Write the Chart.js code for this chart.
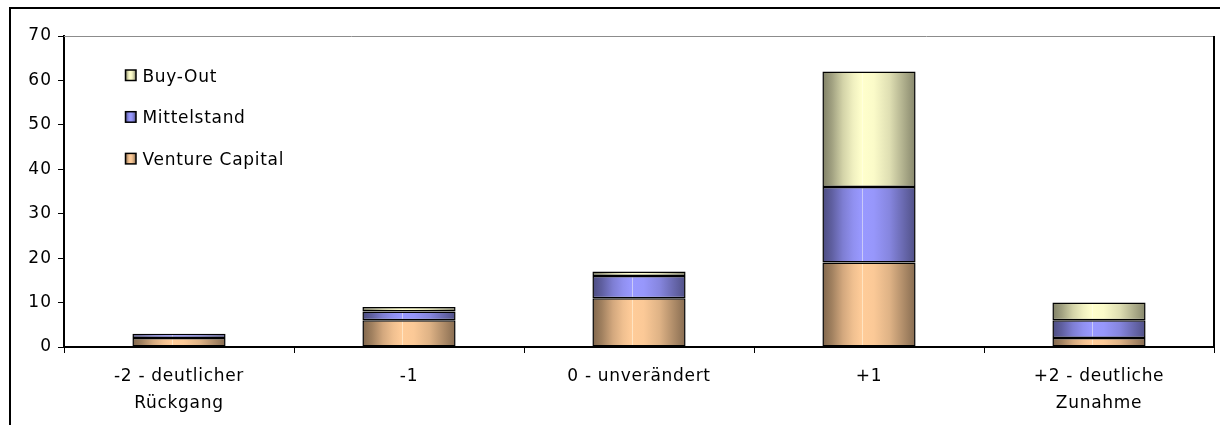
<!DOCTYPE html>
<html>
<head>
<meta charset="utf-8">
<script src="https://cdn.jsdelivr.net/npm/chart.js@4/dist/chart.umd.min.js"></script>
<style>
  html, body { margin: 0; padding: 0; background: #fff; }
  #wrap { width: 1220px; height: 425px; position: relative; }
</style>
</head>
<body>
<div id="wrap"><canvas id="c" width="1220" height="425"></canvas></div>
<script>
// Categories (two-line labels) and stacked series values
const categories = [
  ['-2 - deutlicher', 'Rückgang'],
  '-1',
  '0 - unverändert',
  '+1',
  ['+2 - deutliche', 'Zunahme']
];
const ventureCapital = [2, 6, 11, 19, 2];
const mittelstand    = [1, 2, 5, 17, 4];
const buyOut         = [0, 1, 1, 26, 4];
const yTicks = [0, 10, 20, 30, 40, 50, 60, 70];

const FONT = 'Verdana, "DejaVu Sans", sans-serif';

// Peak (centre) and edge colours of the cylinder-like shading
const palette = {
  'Venture Capital': { hi: [255, 204, 153], lo: [128, 102, 76] },
  'Mittelstand':     { hi: [153, 153, 255], lo: [76, 76, 128] },
  'Buy-Out':         { hi: [255, 255, 204], lo: [128, 128, 102] }
};

function mix(p, t) {
  const c = p.lo.map((lo, i) => Math.round(lo + (p.hi[i] - lo) * t));
  return 'rgb(' + c.join(',') + ')';
}

function shade(ctx, x0, x1, p, highlight) {
  const g = ctx.createLinearGradient(x0, 0, x1, 0);
  g.addColorStop(0.00, mix(p, 0.0));
  g.addColorStop(0.10, mix(p, 0.25));
  g.addColorStop(0.22, mix(p, 0.65));
  g.addColorStop(0.33, mix(p, 0.88));
  g.addColorStop(0.42, mix(p, 1.0));
  if (highlight) {
    g.addColorStop(0.425, 'rgb(255,255,240)');
    g.addColorStop(0.435, mix(p, 1.0));
  }
  g.addColorStop(0.55, mix(p, 0.97));
  g.addColorStop(0.72, mix(p, 0.75));
  g.addColorStop(0.88, mix(p, 0.35));
  g.addColorStop(1.00, mix(p, 0.05));
  return g;
}

const BAR_PCT = 0.405;

function barFill(context) {
  const chart = context.chart;
  const p = palette[context.dataset.label];
  const xs = chart.scales.x;
  if (!chart.chartArea || !xs || context.dataIndex === undefined) return mix(p, 1);
  const cx = xs.getPixelForValue(context.dataIndex);
  const w = (chart.chartArea.width / categories.length) * BAR_PCT;
  return shade(chart.ctx, cx - w / 2, cx + w / 2, p, true);
}

// Draw a scale's labels with extra letter spacing
function spaceLabels(scale, spacing) {
  if (scale._spaced) return;
  scale._spaced = true;
  const orig = scale.drawLabels;
  scale.drawLabels = function (area) {
    const ctx = this.ctx;
    ctx.save();
    ctx.letterSpacing = spacing;
    orig.call(this, area);
    ctx.restore();
  };
}

// Outer frame, plot-area frame and the in-plot legend
const decorations = {
  id: 'decorations',
  afterDraw(chart) {
    const ctx = chart.ctx;
    const a = chart.chartArea;
    ctx.save();
    // outer frame
    ctx.strokeStyle = '#000';
    ctx.lineWidth = 2;
    ctx.beginPath();
    ctx.moveTo(10, 425);
    ctx.lineTo(10, 8);
    ctx.lineTo(1220, 8);
    ctx.stroke();
    // plot area top (grey) and right (black)
    ctx.lineWidth = 1;
    ctx.strokeStyle = '#8c8c8c';
    ctx.beginPath();
    ctx.moveTo(a.left, a.top + 0.5);
    ctx.lineTo(a.right, a.top + 0.5);
    ctx.stroke();
    ctx.lineWidth = 2;
    ctx.strokeStyle = '#000';
    ctx.beginPath();
    ctx.moveTo(a.right, a.top);
    ctx.lineTo(a.right, a.bottom);
    ctx.stroke();

    // legend, listed top-down in reverse stacking order
    const items = chart.data.datasets.slice().reverse();
    ctx.font = '17px ' + FONT;
    ctx.letterSpacing = '0.7px';
    ctx.textBaseline = 'alphabetic';
    ctx.textAlign = 'left';
    items.forEach((ds, i) => {
      const base = 81.5 + i * 41.7;
      const x0 = 125.5, s = 10.5;
      const top = base - 11.5;
      ctx.fillStyle = shade(ctx, x0, x0 + s, palette[ds.label], false);
      ctx.fillRect(x0, top, s, s);
      ctx.lineWidth = 1.5;
      ctx.strokeStyle = '#000';
      ctx.strokeRect(x0, top, s, s);
      ctx.fillStyle = '#000';
      ctx.fillText(ds.label, 142.5, base);
    });
    ctx.restore();
  }
};

new Chart(document.getElementById('c'), {
  type: 'bar',
  data: {
    labels: categories,
    datasets: [
      { label: 'Venture Capital', data: ventureCapital },
      { label: 'Mittelstand', data: mittelstand },
      { label: 'Buy-Out', data: buyOut }
    ].map(d => Object.assign(d, {
      backgroundColor: barFill,
      borderColor: '#000',
      borderWidth: 1.5,
      borderSkipped: false,
      categoryPercentage: 1,
      barPercentage: BAR_PCT
    }))
  },
  options: {
    responsive: false,
    animation: false,
    devicePixelRatio: 1,
    layout: { padding: { left: 0, top: 36, right: 6, bottom: 0 } },
    plugins: { legend: { display: false }, tooltip: { enabled: false } },
    scales: {
      x: {
        stacked: true,
        grid: { display: true, drawOnChartArea: false, drawTicks: true, tickLength: 6, color: '#000', lineWidth: 1, offset: true },
        border: { display: true, color: '#000', width: 2 },
        ticks: {
          color: '#000', font: { family: FONT, size: 17, lineHeight: 1.6 },
          maxRotation: 0, autoSkip: false, padding: 10
        },
        afterFit(scale) { scale.height = 78; spaceLabels(scale, '0.7px'); }
      },
      y: {
        stacked: true,
        min: 0, max: 70,
        afterBuildTicks(scale) { scale.ticks = yTicks.map(v => ({ value: v })); },
        grid: { display: true, drawOnChartArea: false, drawTicks: true, tickLength: 6, color: '#000', lineWidth: 1 },
        border: { display: true, color: '#000', width: 2 },
        ticks: { color: '#000', font: { family: FONT, size: 17 }, padding: 6 },
        afterFit(scale) { scale.width = 64; spaceLabels(scale, '1px'); }
      }
    }
  },
  plugins: [decorations]
});
</script>
</body>
</html>
